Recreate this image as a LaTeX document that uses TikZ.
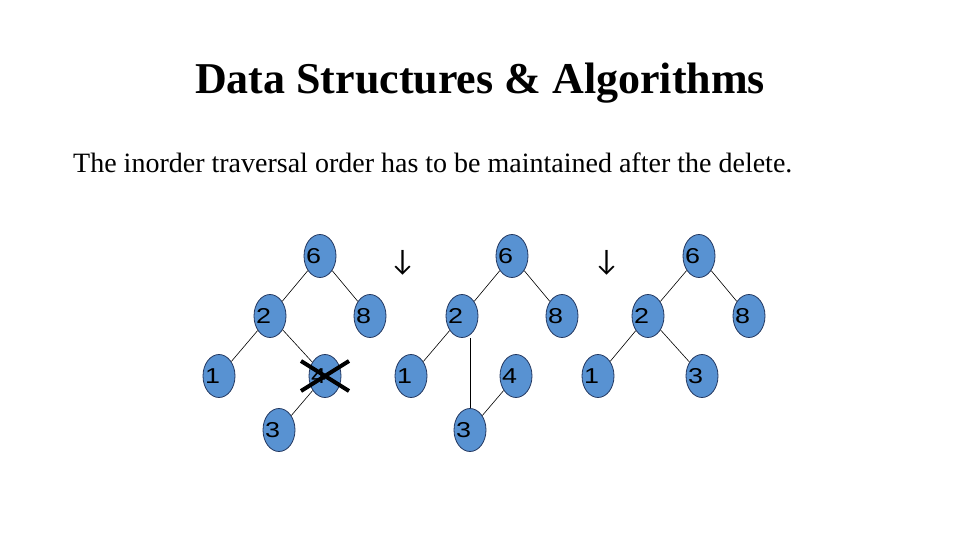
\documentclass[tikz,border=0pt]{standalone}
\usepackage{fontspec}
\setmainfont{Liberation Serif}
\newfontfamily\nodefont{Liberation Sans}
\newfontfamily\symfont{Lato}
\usetikzlibrary{shapes.geometric,calc}
\definecolor{nodefill}{RGB}{88,146,210}
\definecolor{nodeborder}{RGB}{35,55,95}
\newcommand{\nlabel}[1]{\makebox[0pt][l]{\hspace{-14pt}\scalebox{1.25}[1]{#1}}}
\tikzset{
  treenode/.style={ellipse, draw=nodeborder, fill=nodefill, line width=0.8pt,
    minimum width=32pt, minimum height=43pt, inner sep=0pt,
    font=\nodefont\fontsize{21.5}{21.5}\selectfont, text=black},
  edge/.style={draw=black, line width=0.6pt},
  cross/.style={draw=black, line width=4pt},
  downarrow/.style={font=\symfont\fontsize{28}{28}\selectfont, inner sep=0pt}
}
\begin{document}
\begin{tikzpicture}[x=1pt,y=-1pt]
\useasboundingbox (0,0) rectangle (960,540);
% title and text
\node[anchor=base, font=\bfseries\fontsize{44}{44}\selectfont, inner sep=0pt] (title) at (480,94) {Data Structures \& Algorithms};
\node[anchor=base west, font=\fontsize{28}{28}\selectfont, inner sep=0pt] (sub) at (73,172) {The inorder traversal order has to be maintained after the delete.};
% tree 1
\node[treenode] (a6) at (320,256) {\nlabel{6}};
\node[treenode] (a2) at (270,316) {\nlabel{2}};
\node[treenode] (a8) at (370,316) {\nlabel{8}};
\node[treenode] (a1) at (219,376) {\nlabel{1}};
\node[treenode] (a4) at (325,376) {\nlabel{4}};
\node[treenode] (a3) at (279,430) {\nlabel{3}};
\draw[edge] (a6) -- (a2);
\draw[edge] (a6) -- (a8);
\draw[edge] (a2) -- (a1);
\draw[edge] (a2) -- (a4);
\draw[edge] (a4) -- (a3);
\draw[cross] ($(a4)+(-24,-15)$) -- ($(a4)+(24,15)$);
\draw[cross] ($(a4)+(-24,15)$) -- ($(a4)+(24,-15)$);
% arrow 1
\node[downarrow] (arr1) at (402.5,262.5) {↓};
% tree 2
\node[treenode] (b6) at (512,256) {\nlabel{6}};
\node[treenode] (b2) at (462,316) {\nlabel{2}};
\node[treenode] (b8) at (562,316) {\nlabel{8}};
\node[treenode] (b1) at (411,376) {\nlabel{1}};
\node[treenode] (b4) at (516,376) {\nlabel{4}};
\node[treenode] (b3) at (470,430) {\nlabel{3}};
\draw[edge] (b6) -- (b2);
\draw[edge] (b6) -- (b8);
\draw[edge] (b2) -- (b1);
\draw[edge] (b3.north |- b2.south) -- (b3.north);
\draw[edge] (b4) -- (b3);
% arrow 2
\node[downarrow] (arr2) at (606.5,262.5) {↓};
% tree 3
\node[treenode] (c6) at (699,256) {\nlabel{6}};
\node[treenode] (c2) at (648,316) {\nlabel{2}};
\node[treenode] (c8) at (749,316) {\nlabel{8}};
\node[treenode] (c1) at (598,376) {\nlabel{1}};
\node[treenode] (c3) at (702,376) {\nlabel{3}};
\draw[edge] (c6) -- (c2);
\draw[edge] (c6) -- (c8);
\draw[edge] (c2) -- (c1);
\draw[edge] (c2) -- (c3);
\end{tikzpicture}
\end{document}
